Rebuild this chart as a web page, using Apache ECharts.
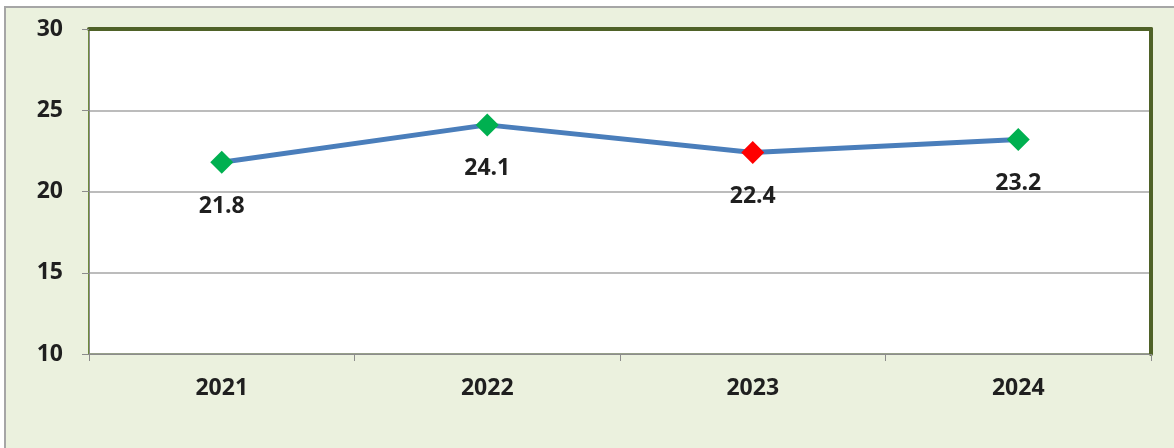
<!DOCTYPE html>
<html>
<head>
<meta charset="utf-8">
<script src="https://cdn.jsdelivr.net/npm/echarts@6/dist/echarts.min.js"></script>
<style>
  html, body { margin: 0; padding: 0; background: #ffffff; overflow: hidden; }
  #frame { position: absolute; left: 4px; top: 6px; width: 1400px; height: 700px;
           background: #EBF1DE; border: 2px solid #A6A6A6; }
  #chart { position: absolute; left: 0; top: 0; width: 1174px; height: 448px; }
</style>
</head>
<body>
<div id="frame"></div>
<div id="chart"></div>
<script>
const categories = ['2021', '2022', '2023', '2024'];
const values = [21.8, 24.1, 22.4, 23.2];
const markerColors = ['#00B050', '#00B050', '#FF0000', '#00B050'];
const yTicks = [10, 15, 20, 25, 30];

const chart = echarts.init(document.getElementById('chart'), null, { renderer: 'canvas' });
const fontFamily = '"Open Sans", "Noto Sans", sans-serif';
const textColor = '#1F1F1F';

chart.setOption({
  backgroundColor: 'transparent',
  animation: false,
  grid: {
    left: 89, right: 23, top: 29, bottom: 94,
    show: true, backgroundColor: '#ffffff',
    borderColor: '#6E8A3C', borderWidth: 2
  },
  xAxis: [{
    type: 'category',
    data: categories,
    boundaryGap: true,
    axisLine: { show: true, lineStyle: { color: '#8C8C8C', width: 1 } },
    axisTick: { show: true, length: 7, lineStyle: { color: '#8C8C8C' } },
    axisLabel: { margin: 23, color: textColor, fontWeight: 'bold', fontSize: 23, fontFamily: fontFamily },
    splitLine: { show: false }
  }, {
    type: 'category',
    data: categories,
    position: 'top',
    axisLine: { show: true, lineStyle: { color: '#4F6228', width: 4 } },
    axisTick: { show: false },
    axisLabel: { show: false },
    splitLine: { show: false }
  }],
  yAxis: [{
    type: 'value',
    min: yTicks[0], max: yTicks[yTicks.length - 1], interval: 5,
    axisLine: { show: true, lineStyle: { color: '#8C8C8C', width: 1 } },
    axisTick: { show: true, length: 7, lineStyle: { color: '#8C8C8C' } },
    axisLabel: { margin: 26, color: textColor, fontWeight: 'bold', fontSize: 23, fontFamily: fontFamily },
    splitLine: { show: true, lineStyle: { color: '#A6A6A6', width: 1.5 } }
  }, {
    type: 'value',
    position: 'right',
    min: yTicks[0], max: yTicks[yTicks.length - 1], interval: 5,
    axisLine: { show: true, lineStyle: { color: '#4F6228', width: 4 } },
    axisTick: { show: false },
    axisLabel: { show: false },
    splitLine: { show: false }
  }],
  series: [{
    type: 'line',
    xAxisIndex: 0, yAxisIndex: 0,
    data: values.map((v, i) => ({ value: v, itemStyle: { color: markerColors[i] } })),
    symbol: 'diamond',
    symbolSize: 23,
    lineStyle: { color: '#4A7EBB', width: 5 },
    itemStyle: { borderWidth: 0 },
    z: 3,
    label: {
      show: true, position: 'bottom', distance: 21,
      color: textColor, fontWeight: 'bold', fontSize: 23, fontFamily: fontFamily,
      formatter: p => p.value.toFixed(1)
    }
  }]
});
</script>
</body>
</html>
